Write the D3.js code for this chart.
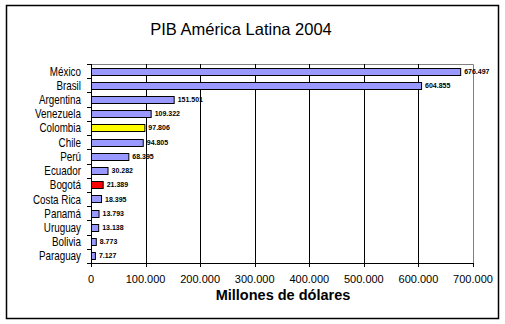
<!DOCTYPE html>
<html><head><meta charset="utf-8">
<script src="https://cdn.jsdelivr.net/npm/d3@7"></script>
<style>body{margin:0;background:#fff;}svg{display:block;font-family:Arial,"Liberation Sans",sans-serif;}</style>
</head><body>
<script>
const categories = ["México","Brasil","Argentina","Venezuela","Colombia","Chile","Perú","Ecuador","Bogotá","Costa Rica","Panamá","Uruguay","Bolivia","Paraguay"];
const values = [676497,604855,151501,109322,97806,94805,68395,30282,21389,18395,13793,13138,8773,7127];
const barColors = ["#9999FF","#9999FF","#9999FF","#9999FF","#FFFF00","#9999FF","#9999FF","#9999FF","#FF0000","#9999FF","#9999FF","#9999FF","#9999FF","#9999FF"];
const xTicks = [0,100000,200000,300000,400000,500000,600000,700000];
const title = "PIB América Latina 2004";
const xTitle = "Millones de dólares";

const W = 505, H = 324;
const svg = d3.select("body").append("svg").attr("width", W).attr("height", H);
const loc = d3.formatLocale({decimal: ",", thousands: ".", grouping: [3], currency: ["", ""]});
const fmt = loc.format(",d");

const pL = 91, pR = 473, pT = 64, pB = 263;
const x = d3.scaleLinear().domain([0, 700000]).range([pL, pR]);
const y = d3.scaleBand().domain(categories).range([pT, pB]).paddingInner(0.5).paddingOuter(0.25);

// outer frame
svg.append("rect").attr("x", 6.5).attr("y", 5.5).attr("width", 492).attr("height", 313)
  .attr("fill", "#fff").attr("stroke", "#000").attr("stroke-width", 1.5);

// title
svg.append("text").attr("x", 241).attr("y", 35).attr("text-anchor", "middle")
  .attr("font-size", 16.5).text(title);

// plot border (gray) top & right
svg.append("path").attr("d", `M${pL},${pT+0.5}H${pR+0.5}V${pB}`)
  .attr("fill", "none").attr("stroke", "#808080").attr("stroke-width", 1);

// gridlines
svg.append("g").selectAll("line").data(xTicks.slice(1, -1)).join("line")
  .attr("x1", d => Math.round(x(d)) + 0.5).attr("x2", d => Math.round(x(d)) + 0.5)
  .attr("y1", pT).attr("y2", pB).attr("stroke", "#000").attr("stroke-width", 1);

// bars
svg.append("g").selectAll("rect").data(categories).join("rect")
  .attr("x", pL + 0.5)
  .attr("y", d => Math.round(y(d)) + 0.5)
  .attr("width", (d, i) => x(values[i]) - pL)
  .attr("height", Math.round(y.bandwidth()))
  .attr("fill", (d, i) => barColors[i])
  .attr("stroke", "#000").attr("stroke-width", 1);

// value labels
svg.append("g").selectAll("text").data(categories).join("text")
  .attr("x", (d, i) => x(values[i]) + 4)
  .attr("y", d => y(d) + y.bandwidth() / 2 + 2.5)
  .attr("font-size", 7).attr("font-weight", "bold")
  .text((d, i) => fmt(values[i]));

// y axis
const yBounds = d3.range(categories.length + 1).map(i => pT + i * (pB - pT) / categories.length);
const gy = svg.append("g");
gy.append("line").attr("x1", pL + 0.5).attr("x2", pL + 0.5).attr("y1", pT).attr("y2", pB + 0.5)
  .attr("stroke", "#000").attr("stroke-width", 1);
gy.selectAll("line.t").data(yBounds).join("line").attr("class", "t")
  .attr("x1", pL - 4).attr("x2", pL).attr("y1", d => Math.round(d) + 0.5).attr("y2", d => Math.round(d) + 0.5)
  .attr("stroke", "#000");
gy.selectAll("text").data(categories).join("text")
  .attr("transform", d => `translate(${pL - 10},${y(d) + y.bandwidth() / 2 + 4.5}) scale(0.82,1)`)
  .attr("text-anchor", "end").attr("font-size", 12)
  .text(d => d);

// x axis
const gx = svg.append("g");
gx.append("line").attr("x1", pL).attr("x2", pR + 0.5).attr("y1", pB + 0.5).attr("y2", pB + 0.5)
  .attr("stroke", "#000");
gx.selectAll("line.t").data(xTicks).join("line").attr("class", "t")
  .attr("x1", d => Math.round(x(d)) + 0.5).attr("x2", d => Math.round(x(d)) + 0.5)
  .attr("y1", pB).attr("y2", pB + 4).attr("stroke", "#000");
gx.selectAll("text").data(xTicks).join("text")
  .attr("x", d => x(d)).attr("y", 283).attr("text-anchor", "middle")
  .attr("font-size", 11).text(d => fmt(d));

svg.append("text").attr("x", 283).attr("y", 300).attr("text-anchor", "middle")
  .attr("font-size", 14.5).attr("font-weight", "bold").text(xTitle);
</script>
</body></html>
